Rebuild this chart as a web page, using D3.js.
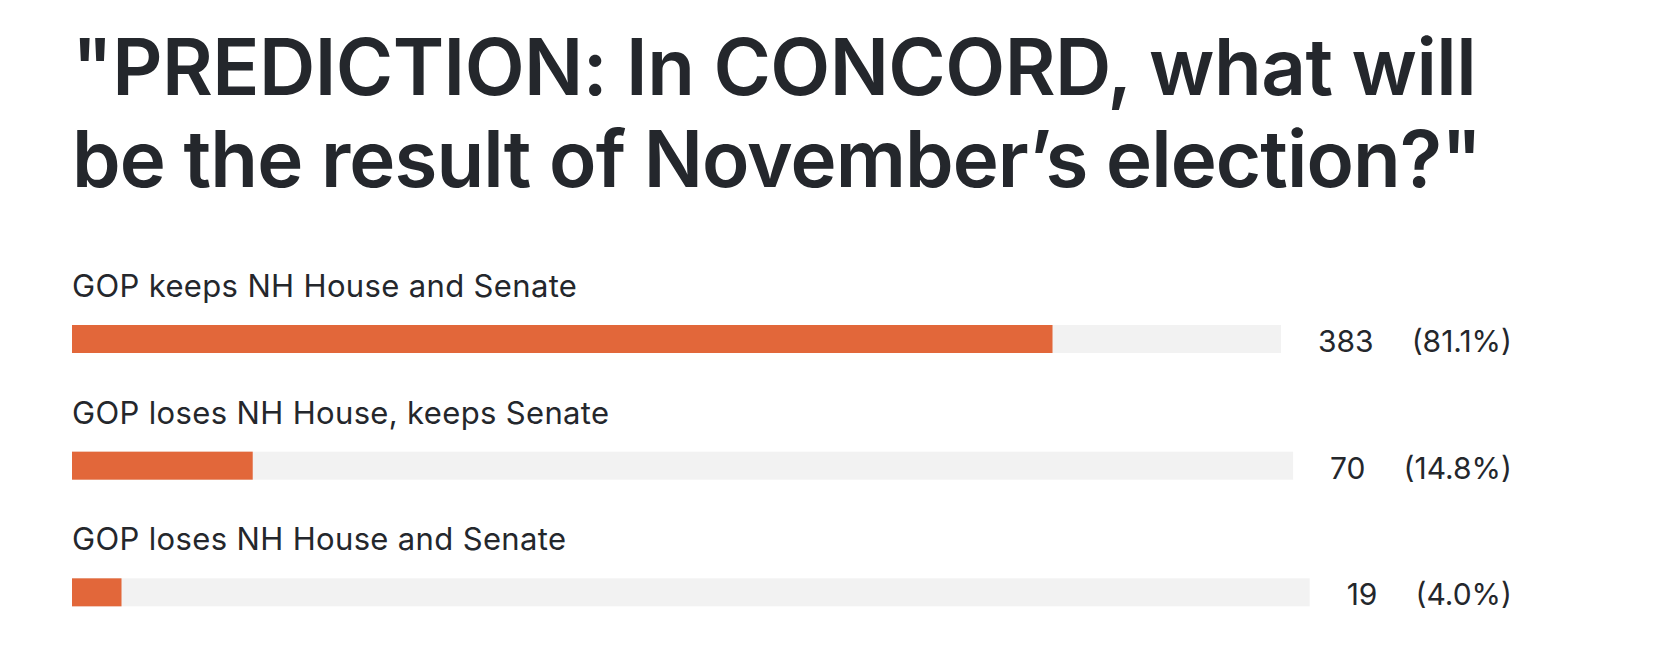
<!DOCTYPE html>
<html>
<head>
<meta charset="utf-8">
<script src="https://cdn.jsdelivr.net/npm/d3@7"></script>
<style>
  html, body { margin: 0; padding: 0; background: #ffffff; }
  svg { display: block; }
  text { font-family: Inter, "Noto Sans", sans-serif; fill: #24272c; }
</style>
</head>
<body>
<svg id="chart" width="1670" height="670"></svg>
<script>
const titleLines = ["\"PREDICTION: In CONCORD, what will", "be the result of November\u2019s election?\""];
const titleWidths = [1404, 1409];
const categories = ["GOP keeps NH House and Senate", "GOP loses NH House, keeps Senate", "GOP loses NH House and Senate"];
const counts = [383, 70, 19];
const percents = [81.1, 14.8, 4.0];

const W = 1670, H = 670;
const svg = d3.select("#chart");
const left = 72, rightEdge = 1512;

svg.selectAll("text.title")
  .data(titleLines)
  .join("text")
  .attr("class", "title")
  .attr("x", 72)
  .attr("y", (d, i) => 95 + i * 92)
  .style("font-size", "78px")
  .style("font-weight", 600)
  .text(d => d)
  .each(function(d, i) {
    const w = this.getComputedTextLength();
    const ls = (titleWidths[i] - w) / d.length;
    d3.select(this).style("letter-spacing", ls + "px");
  });

const rowY = d3.scaleBand().domain(categories).range([262, 642]).paddingInner(0).paddingOuter(0);

const rows = svg.selectAll("g.row")
  .data(categories.map((c, i) => ({ c, n: counts[i], p: percents[i] })))
  .join("g")
  .attr("class", "row")
  .attr("transform", d => `translate(0,${rowY(d.c)})`);

rows.append("text")
  .attr("x", left)
  .attr("y", 35)
  .style("font-size", "31px")
  .style("letter-spacing", "0.35px")
  .style("font-weight", 400)
  .text(d => d.c);

rows.each(function(d) {
  const g = d3.select(this);
  const pctT = g.append("text")
    .attr("x", rightEdge)
    .attr("y", 90)
    .attr("text-anchor", "end")
    .style("font-size", "30px")
    .text(`(${d.p.toFixed(1)}%)`);
  const pw = pctT.node().getComputedTextLength();
  const cntEnd = rightEdge - pw - 38;
  const cntT = g.append("text")
    .attr("x", cntEnd)
    .attr("y", 90)
    .attr("text-anchor", "end")
    .style("font-size", "30px")
    .text(d.n);
  const cw = cntT.node().getComputedTextLength();
  const trackEnd = cntEnd - cw - 37;
  const x = d3.scaleLinear().domain([0, 100]).range([left, trackEnd]);
  g.insert("rect", "text")
    .attr("x", x(0)).attr("y", 63)
    .attr("width", x(100) - x(0)).attr("height", 28)
    .attr("fill", "#f2f2f2");
  g.insert("rect", "text")
    .attr("x", x(0)).attr("y", 63)
    .attr("width", x(d.p) - x(0)).attr("height", 28)
    .attr("fill", "#e2673a");
});
</script>
</body>
</html>
